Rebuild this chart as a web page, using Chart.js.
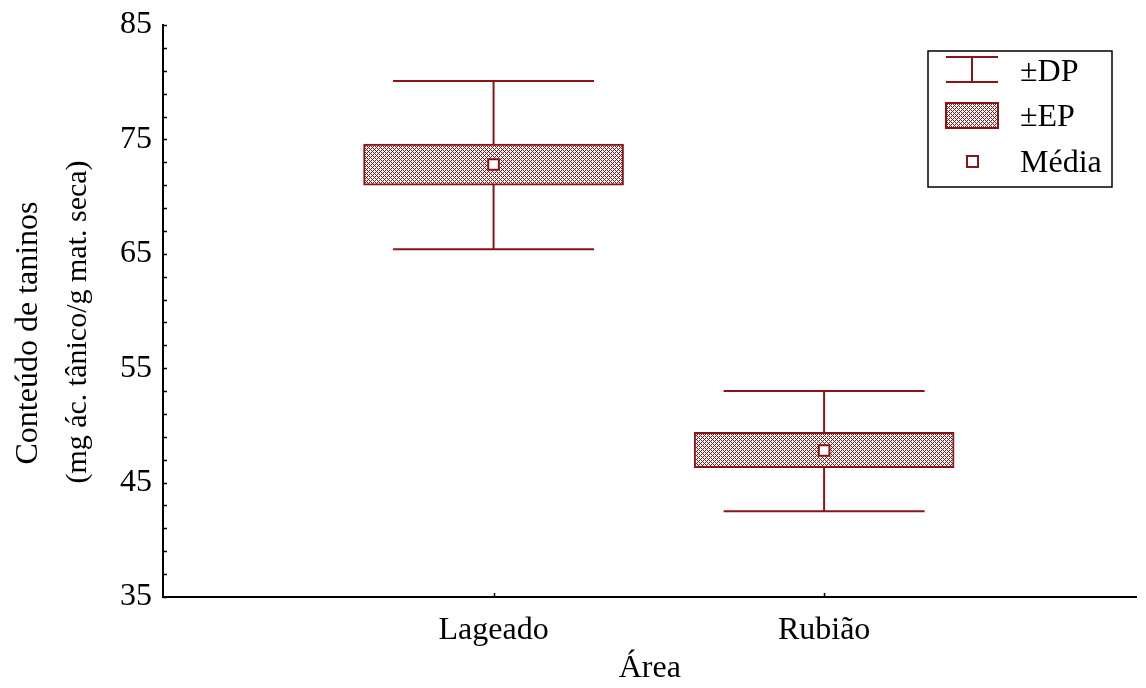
<!DOCTYPE html>
<html>
<head>
<meta charset="utf-8">
<script src="https://cdn.jsdelivr.net/npm/chart.js@4/dist/chart.umd.min.js"></script>
<style>
  body { margin: 0; background: #fff; }
</style>
</head>
<body>
<canvas id="chart" width="1146" height="688"></canvas>
<script>
// dados
const categories = ['Lageado', 'Rubião'];
const means = [72.8, 47.8];
const seLow = [71.0, 46.3];
const seHigh = [74.6, 49.4];
const sdLow = [65.4, 42.5];
const sdHigh = [80.1, 53.0];
const yTickLabels = [35, 45, 55, 65, 75, 85];
const legendLabels = ['±DP', '±EP', 'Média'];
const yTitle = ['Conteúdo de taninos', '(mg ác. tânico/g mat. seca)'];

const red = 'rgb(140,20,20)';
const font = 'Liberation Serif';

// padrão hachurado das caixas
function makeHatch(color) {
    var c = document.createElement('canvas');
    c.width = 4; c.height = 4;
    var g = c.getContext('2d');
    g.fillStyle = '#fff';
    g.fillRect(0, 0, 4, 4);
    g.fillStyle = color;
    for (var i = 0; i < 4; i++) g.fillRect(3 - i, i, 1, 1);
    g.fillRect(1, 0, 1, 1);
    g.fillRect(3, 2, 1, 1);
    return g.createPattern(c, 'repeat');
}
const hatch = makeHatch(red);

// bigodes (±DP), marcas internas dos eixos, título do eixo y e legenda
const extras = {
    id: 'extras',
    beforeDatasetsDraw: function (chart) {
        var ctx = chart.ctx, x = chart.scales.x, y = chart.scales.y;
        var capHalf = x.getPixelForValue(0.304) - x.getPixelForValue(0);
        ctx.save();
        ctx.strokeStyle = red;
        ctx.lineWidth = 2;
        categories.forEach(function (c, i) {
            var px = x.getPixelForValue(i + 1);
            var top = y.getPixelForValue(sdHigh[i]);
            var bot = y.getPixelForValue(sdLow[i]);
            ctx.beginPath();
            ctx.moveTo(px, top); ctx.lineTo(px, bot);
            ctx.moveTo(px - capHalf, top); ctx.lineTo(px + capHalf, top);
            ctx.moveTo(px - capHalf, bot); ctx.lineTo(px + capHalf, bot);
            ctx.stroke();
        });
        ctx.restore();
    },
    afterDraw: function (chart) {
        var ctx = chart.ctx, x = chart.scales.x, y = chart.scales.y;
        var ca = chart.chartArea;
        ctx.save();
        // marcas dos eixos voltadas para dentro
        ctx.strokeStyle = '#000';
        ctx.lineWidth = 1.5;
        ctx.beginPath();
        y.ticks.forEach(function (t) {
            var py = Math.round(y.getPixelForValue(t.value)) + 0.5;
            ctx.moveTo(ca.left, py); ctx.lineTo(ca.left + 4, py);
        });
        x.ticks.forEach(function (t) {
            var px = Math.round(x.getPixelForValue(t.value)) + 0.5;
            ctx.moveTo(px, ca.bottom); ctx.lineTo(px, ca.bottom - 4);
        });
        ctx.stroke();

        // título do eixo y (duas linhas)
        ctx.fillStyle = '#000';
        ctx.textAlign = 'center';
        ctx.textBaseline = 'alphabetic';
        ctx.save();
        ctx.translate(37, 333);
        ctx.rotate(-Math.PI / 2);
        ctx.font = '32px "' + font + '"';
        ctx.fillText(yTitle[0], 0, 0);
        ctx.restore();
        ctx.save();
        ctx.translate(86, 322);
        ctx.rotate(-Math.PI / 2);
        ctx.font = '30px "' + font + '"';
        ctx.fillText(yTitle[1], 0, 0);
        ctx.restore();

        // legenda
        var bx = chart.width - 218, by = ca.top + 26, bw = 184, bh = 136;
        ctx.fillStyle = '#fff';
        ctx.fillRect(bx, by, bw, bh);
        ctx.strokeStyle = '#000';
        ctx.lineWidth = 1.5;
        ctx.strokeRect(bx, by, bw, bh);

        var ix = bx + 18, iw = 52;
        ctx.strokeStyle = red;
        ctx.lineWidth = 2;
        ctx.beginPath();
        ctx.moveTo(ix, by + 6); ctx.lineTo(ix + iw, by + 6);
        ctx.moveTo(ix, by + 31); ctx.lineTo(ix + iw, by + 31);
        ctx.moveTo(ix + iw / 2, by + 6); ctx.lineTo(ix + iw / 2, by + 31);
        ctx.stroke();

        ctx.fillStyle = hatch;
        ctx.fillRect(ix, by + 52, iw, 25);
        ctx.strokeRect(ix, by + 52, iw, 25);

        ctx.fillStyle = '#fff';
        ctx.fillRect(ix + iw / 2 - 5, by + 105, 11, 11);
        ctx.strokeRect(ix + iw / 2 - 5, by + 105, 11, 11);

        ctx.fillStyle = '#000';
        ctx.font = '32px "' + font + '"';
        ctx.textBaseline = 'middle';
        ctx.textAlign = 'left';
        var tx = bx + 92;
        ctx.fillText(legendLabels[0], tx, by + 22);
        ctx.fillText(legendLabels[1], tx, by + 67);
        ctx.fillText(legendLabels[2], tx, by + 113);
        ctx.restore();
    }
};

const ctx = document.getElementById('chart').getContext('2d');
const chart = new Chart(ctx, {
    type: 'bar',
    data: {
        datasets: [{
            type: 'scatter',
            label: 'Média',
            data: categories.map(function (c, i) { return { x: i + 1, y: means[i] }; }),
            pointStyle: 'rect',
            pointRadius: 7.5,
            backgroundColor: '#fff',
            borderColor: red,
            borderWidth: 2,
            order: 1
        }, {
            type: 'bar',
            label: '±EP',
            data: categories.map(function (c, i) { return { x: i + 1, y: [seLow[i], seHigh[i]] }; }),
            backgroundColor: hatch,
            borderColor: red,
            borderWidth: 2,
            borderSkipped: false,
            barThickness: 260,
            order: 2
        }]
    },
    options: {
        responsive: false,
        animation: false,
        layout: { padding: { top: 25, right: 0, left: 0, bottom: 0 } },
        plugins: {
            legend: { display: false },
            tooltip: { enabled: false }
        },
        scales: {
            x: {
                type: 'linear',
                offset: false,
                min: 0,
                max: 2.945,
                afterBuildTicks: function (scale) {
                    scale.ticks = categories.map(function (c, i) { return { value: i + 1 }; });
                },
                afterFit: function (scale) { scale.height = 91; },
                grid: { display: false, offset: false },
                border: { display: true, color: '#000', width: 2 },
                ticks: {
                    autoSkip: false,
                    maxRotation: 0,
                    padding: 6,
                    color: '#000',
                    font: { family: font, size: 32 },
                    callback: function (v) { return categories[v - 1]; }
                },
                title: {
                    display: true,
                    text: 'Área',
                    color: '#000',
                    font: { family: font, size: 32 },
                    padding: { top: 4, bottom: 0 }
                }
            },
            y: {
                min: 35,
                max: 85,
                afterFit: function (scale) { scale.width = 163; },
                grid: { display: false },
                border: { display: true, color: '#000', width: 2 },
                ticks: {
                    stepSize: 2,
                    autoSkip: false,
                    padding: 3,
                    color: '#000',
                    font: { family: font, size: 32 },
                    callback: function (v) { return yTickLabels.indexOf(v) >= 0 ? String(v) : ''; }
                }
            }
        }
    },
    plugins: [extras]
});
</script>
</body>
</html>
